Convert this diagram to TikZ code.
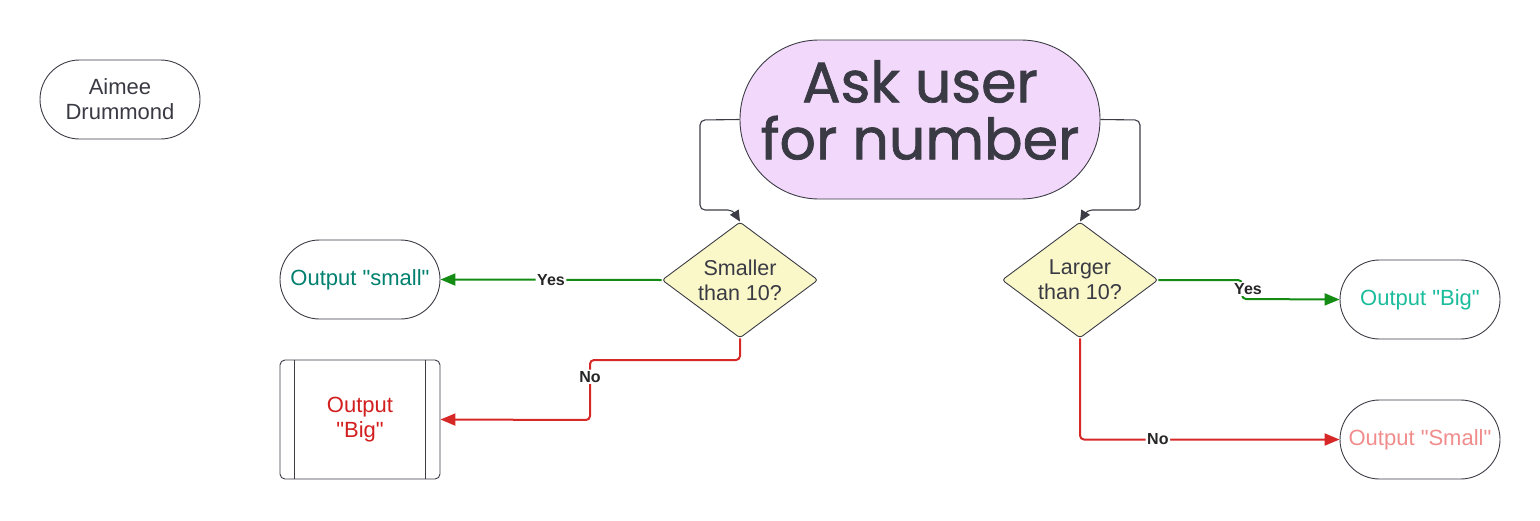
\documentclass[tikz,border=0pt]{standalone}
\usepackage{fontspec}
\setmainfont{Liberation Sans}[Ligatures=TeXOff]
\newfontfamily\askfont{Poppins}[FakeBold=1.3]
\usetikzlibrary{shapes.geometric,arrows.meta}

\definecolor{edge}{RGB}{60,60,70}
\definecolor{askfill}{RGB}{242,216,250}
\definecolor{askink}{RGB}{58,58,68}
\definecolor{qfill}{RGB}{250,248,200}
\definecolor{yesline}{RGB}{20,140,20}
\definecolor{noline}{RGB}{215,40,40}
\definecolor{tealink}{RGB}{0,128,110}
\definecolor{redink}{RGB}{210,30,30}
\definecolor{cyanink}{RGB}{26,188,156}
\definecolor{pinkink}{RGB}{240,140,140}

\tikzset{
	pill/.style={draw=edge, line width=0.9pt, rectangle, rounded corners=39.5pt,
		minimum width=160pt, minimum height=79pt, align=center,
		font=\fontsize{22}{25}\selectfont},
	query/.style={draw=edge, line width=0.9pt, fill=qfill, diamond, aspect=1.345,
		minimum width=156pt, minimum height=116pt, inner sep=0pt, align=center,
		rounded corners=3pt, text=askink, font=\fontsize{21.5}{25}\selectfont},
	flowline/.style={draw=edge, line width=1.1pt, rounded corners=5pt,
		-{Triangle[length=11pt,width=10pt]}},
	yesarrow/.style={draw=yesline, line width=2pt, rounded corners=4pt,
		-{Triangle[length=15pt,width=12pt]}},
	noarrow/.style={draw=noline, line width=2pt, rounded corners=4pt,
		-{Triangle[length=15pt,width=12pt]}},
	branch/.style={fill=white, inner sep=1.5pt, text=black!85,
		font=\bfseries\fontsize{16}{18}\selectfont},
}

\begin{document}
\begin{tikzpicture}[x=1pt, y=-1pt]
	\useasboundingbox (0,0) rectangle (1540,520);
	% Nodes:
	\draw node[pill, text=askink] (name) at (120,99.5) {Aimee\\Drummond};
	\draw node[pill, fill=askfill, minimum width=360pt, minimum height=159pt,
		rounded corners=79pt] (ask) at (920,119.5) {};
	\draw node[align=center, text=askink, inner sep=0pt,
		font=\askfont\fontsize{57}{57}\selectfont] (askText) at (920,110) {Ask user\\for number};
	\draw node[query] (sml) at (740,280) {Smaller\\than 10?};
	\draw node[query] (lrg) at (1080,280) {Larger\\than 10?};
	\draw node[pill, text=tealink] (outSmall) at (360,279.5) {Output "small"};
	\draw node[draw=edge, line width=0.9pt, rounded corners=5pt, minimum width=160pt,
		minimum height=119pt, align=center, text=redink,
		font=\fontsize{22}{25}\selectfont] (outBigL) at (360,419.5) {Output\\"Big"};
	\draw[edge, line width=0.9pt] ([xshift=15pt]outBigL.north west) -- ([xshift=15pt]outBigL.south west);
	\draw[edge, line width=0.9pt] ([xshift=-15pt]outBigL.north east) -- ([xshift=-15pt]outBigL.south east);
	\draw node[pill, text=cyanink] (outBigR) at (1420,299.5) {Output "Big"};
	\draw node[pill, text=pinkink] (outSmallR) at (1420,439.5) {Output "Small"};
	% Connectors:
	\draw[flowline] (ask.west) -- (700,120) -- (700,210) -- (733,210) -- (sml.north);
	\draw[flowline] (ask.east) -- (1140,120) -- (1140,210) -- (1087,210) -- (lrg.north);
	\draw[yesarrow] (sml.west) -- node[branch] {Yes} (outSmall.east);
	\draw[noarrow] (sml.south) -- (740,360) -- (590,360) -- node[branch, pos=0.28] {No} (590,420) -- (outBigL.east);
	\draw[yesarrow] (lrg.east) -- (1242,280) -- (1242,299) -- (outBigR.west);
	\draw node[branch] (yesR) at (1248,289) {Yes};
	\draw[noarrow] (lrg.south) |- node[branch, pos=0.65] {No} (outSmallR.west);
\end{tikzpicture}
\end{document}
